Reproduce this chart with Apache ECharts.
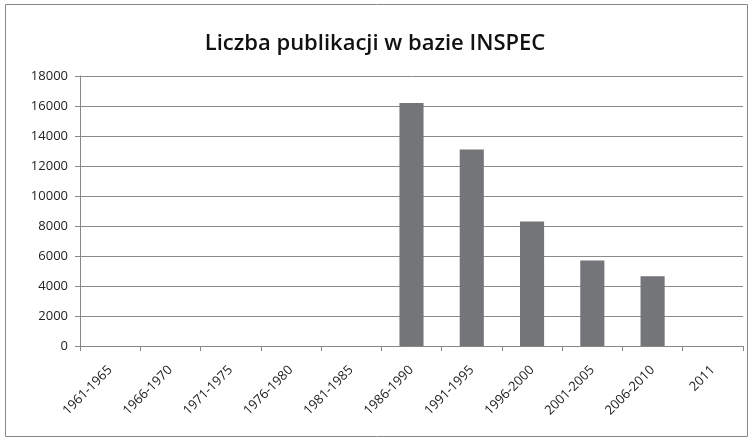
<!DOCTYPE html>
<html>
<head>
<meta charset="utf-8">
<script src="https://cdn.jsdelivr.net/npm/echarts@6/dist/echarts.min.js"></script>
<style>
  html, body { margin: 0; padding: 0; background: #fff; }
  #chart { width: 750px; height: 440px; }
</style>
</head>
<body>
<div id="chart"></div>
<script>
// periods on the x axis
const categories = ['1961-1965', '1966-1970', '1971-1975', '1976-1980', '1981-1985',
  '1986-1990', '1991-1995', '1996-2000', '2001-2005', '2006-2010', '2011'];
// number of publications per period
const publications = [0, 0, 0, 0, 0, 16200, 13100, 8300, 5700, 4650, 0];
const chartTitle = 'Liczba publikacji w bazie INSPEC';

const chart = echarts.init(document.getElementById('chart'));
const option = {
  animation: false,
  backgroundColor: '#fff',
  title: {
    text: chartTitle,
    left: 'center',
    top: 28,
    textStyle: {
      fontFamily: 'Open Sans',
      fontSize: 22,
      fontWeight: 600,
      color: '#111'
    }
  },
  graphic: [{
    type: 'rect',
    shape: { x: 5.5, y: 4.5, width: 742, height: 432 },
    style: { fill: 'none', stroke: '#888', lineWidth: 1 },
    silent: true
  }],
  grid: { left: 80, right: 7, top: 76, bottom: 94 },
  xAxis: {
    type: 'category',
    data: categories,
    axisLine: { lineStyle: { color: '#888' } },
    axisTick: { show: true, length: 5, alignWithLabel: false, lineStyle: { color: '#888' } },
    axisLabel: {
      rotate: 45,
      interval: 0,
      margin: 22,
      fontFamily: 'Open Sans',
      fontSize: 13,
      color: '#222'
    }
  },
  yAxis: {
    type: 'value',
    min: 0,
    max: 18000,
    interval: 2000,
    axisLine: { show: true, lineStyle: { color: '#888' } },
    axisTick: { show: true, length: 5, lineStyle: { color: '#888' } },
    splitLine: { lineStyle: { color: '#8a8a8a' } },
    axisLabel: {
      margin: 12,
      fontFamily: 'Open Sans',
      fontSize: 13,
      color: '#222',
      formatter: function (v) { return String(v); }
    }
  },
  series: [{
    type: 'bar',
    data: publications,
    barWidth: '40%',
    itemStyle: { color: '#747579' }
  }]
};
chart.setOption(option);
</script>
</body>
</html>
